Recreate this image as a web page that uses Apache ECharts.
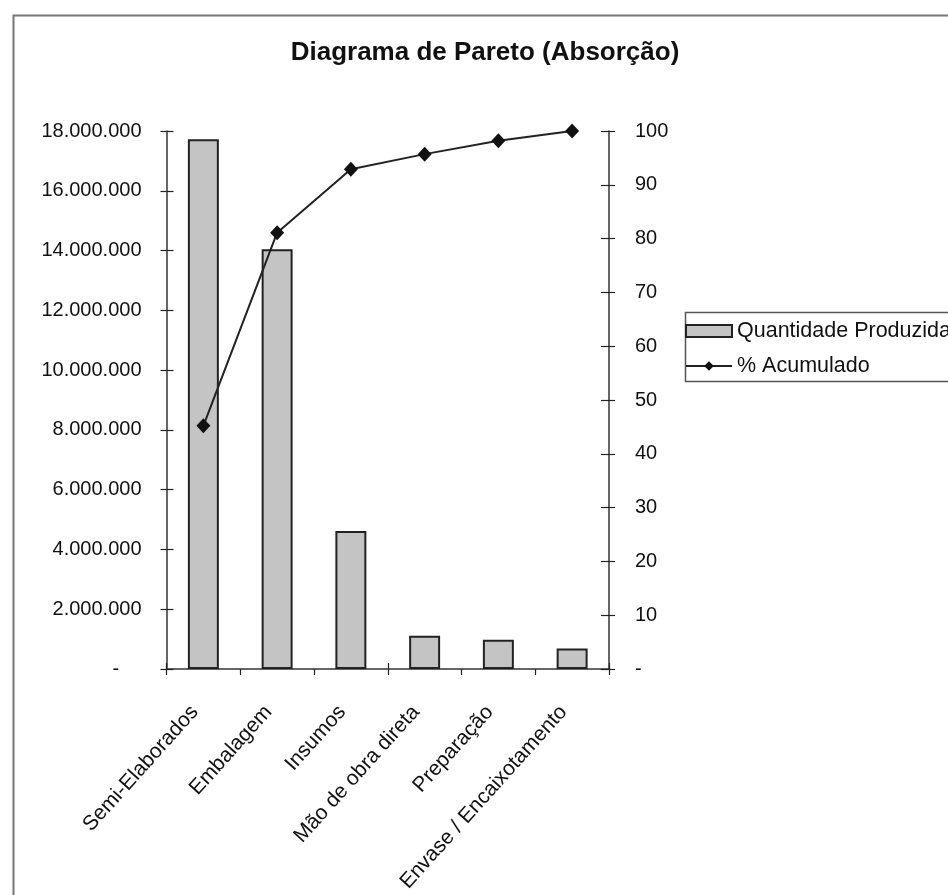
<!DOCTYPE html>
<html>
<head>
<meta charset="utf-8">
<script src="https://cdn.jsdelivr.net/npm/echarts@6/dist/echarts.min.js"></script>
<style>
html,body{margin:0;padding:0;background:#fff;}
#chart{width:948px;height:895px;}
</style>
</head>
<body>
<div id="chart"></div>
<script>
const titleText = 'Diagrama de Pareto (Absorção)';
const categories = ['Semi-Elaborados', 'Embalagem', 'Insumos', 'Mão de obra direta', 'Preparação', 'Envase / Encaixotamento'];
const quantidade = [17720000, 14040000, 4620000, 1110000, 980000, 690000];
const acumulado = [45.2, 81.1, 92.9, 95.7, 98.2, 100];
const seriesNames = ['Quantidade Produzida', '% Acumulado'];
const leftAxisMax = 18000000, leftAxisStep = 2000000;
const rightAxisMax = 100, rightAxisStep = 10;

const FONT = '"Liberation Sans", Arial, sans-serif';
function fmtThousands(v) {
  if (v === 0) return '-    ';
  return String(Math.round(v)).replace(/\B(?=(\d{3})+(?!\d))/g, '.');
}
function fmtRight(v) { return v === 0 ? '-' : String(v); }

const chart = echarts.init(document.getElementById('chart'), null, {renderer: 'canvas'});
const grid = {left: 166.5, right: 339, top: 131, bottom: 226, containLabel: false};
const tickStyle = {color: '#222', width: 1.2};

chart.setOption({
  backgroundColor: '#fff',
  animation: false,
  title: {
    text: titleText, left: 480, top: 35, textAlign: 'center',
    textStyle: {fontFamily: FONT, fontSize: 26, fontWeight: 'bold', color: '#111'}
  },
  legend: {
    orient: 'vertical', left: 680, top: 315, itemWidth: 46, itemHeight: 12, itemGap: 13,
    textStyle: {fontFamily: FONT, fontSize: 21.5, color: '#111'},
    data: [{name: seriesNames[0], icon: 'rect'}, {name: seriesNames[1]}]
  },
  grid: grid,
  xAxis: [
    {
      type: 'category', data: categories, position: 'bottom',
      axisLine: {lineStyle: {color: '#333', width: 1.5}},
      axisTick: {show: true, length: 6, lineStyle: tickStyle},
      axisLabel: {rotate: 48, margin: 30, padding: [0, 13, 0, 0], fontFamily: FONT, fontSize: 21, color: '#111', interval: 0},
      splitLine: {show: false}
    },
    {
      type: 'category', data: categories, position: 'bottom', offset: 0,
      axisLine: {show: false},
      axisTick: {show: true, inside: true, length: 6, lineStyle: tickStyle},
      axisLabel: {show: false}, splitLine: {show: false}
    },
    {
      type: 'category', data: categories, position: 'top', offset: 0,
      axisLine: {show: true, lineStyle: {color: '#666', width: 1, type: 'dotted'}},
      axisTick: {show: false}, axisLabel: {show: false}, splitLine: {show: false}
    }
  ],
  yAxis: [
    {
      type: 'value', min: 0, max: leftAxisMax, interval: leftAxisStep, position: 'left',
      axisLine: {show: true, lineStyle: {color: '#333', width: 1.5}},
      axisTick: {show: true, length: 6, lineStyle: tickStyle},
      axisLabel: {margin: 25, fontFamily: FONT, fontSize: 20, color: '#111', formatter: fmtThousands},
      splitLine: {show: false}
    },
    {
      type: 'value', min: 0, max: rightAxisMax, interval: rightAxisStep, position: 'right',
      axisLine: {show: true, lineStyle: {color: '#333', width: 1.5}},
      axisTick: {show: true, length: 6, lineStyle: tickStyle},
      axisLabel: {margin: 26, fontFamily: FONT, fontSize: 20, color: '#111', formatter: fmtRight},
      splitLine: {show: false}
    },
    {
      type: 'value', min: 0, max: leftAxisMax, interval: leftAxisStep, position: 'left', offset: 0,
      axisLine: {show: false},
      axisTick: {show: true, inside: true, length: 7, lineStyle: tickStyle},
      axisLabel: {show: false}, splitLine: {show: false}
    },
    {
      type: 'value', min: 0, max: rightAxisMax, interval: rightAxisStep, position: 'right', offset: 0,
      axisLine: {show: false},
      axisTick: {show: true, inside: true, length: 8, lineStyle: tickStyle},
      axisLabel: {show: false}, splitLine: {show: false}
    }
  ],
  series: [
    {
      name: seriesNames[0], type: 'bar', xAxisIndex: 0, yAxisIndex: 0,
      data: quantidade, barCategoryGap: '58%',
      itemStyle: {color: '#c4c4c4', borderColor: '#222', borderWidth: 2}
    },
    {
      name: seriesNames[1], type: 'line', xAxisIndex: 0, yAxisIndex: 1,
      data: acumulado, symbol: 'diamond', symbolSize: [14, 15],
      lineStyle: {color: '#222', width: 2},
      itemStyle: {color: '#111'}
    }
  ],
  graphic: [
    {type: 'rect', left: 11, top: 13, shape: {width: 1000, height: 1000}, silent: true, z: -10,
     style: {fill: 'none', stroke: '#777', lineWidth: 2}},
    {type: 'rect', left: 683, top: 310, shape: {width: 300, height: 69}, silent: true, z: -5,
     style: {fill: 'none', stroke: '#555', lineWidth: 1.5}}
  ]
});
</script>
</body>
</html>
